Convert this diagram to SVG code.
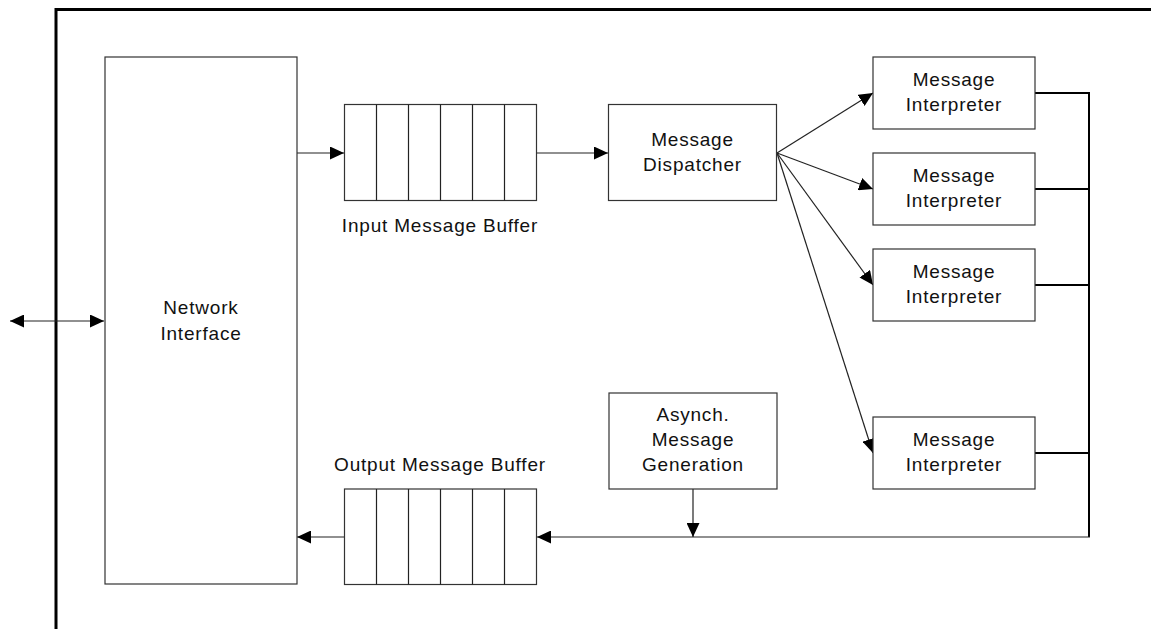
<svg xmlns="http://www.w3.org/2000/svg" width="1151" height="629" viewBox="0 0 1151 629">
<style>
.box{fill:#fff;stroke:#333;stroke-width:1.2}
.ln{fill:none;stroke:#222;stroke-width:1.2}
.bus{fill:none;stroke:#000;stroke-width:2}
.frame{fill:none;stroke:#000;stroke-width:3}
text{font-family:"Liberation Sans",Arial,sans-serif;font-size:19px;letter-spacing:0.8px;fill:#111;text-anchor:middle}
</style>
<defs>
<marker id="ah" viewBox="0 0 14 13" refX="14" refY="6.5" markerWidth="14" markerHeight="13" markerUnits="userSpaceOnUse" orient="auto-start-reverse">
<path d="M0,0 L14,6.5 L0,13 z" fill="#000"/>
</marker>
</defs>
<rect width="1151" height="629" fill="#fff"/>
<g id="frame">
<path class="frame" d="M56,629 V9.5 H1151"/>
</g>
<g id="connectors">
<line class="ln" x1="10" y1="321" x2="104" y2="321" marker-start="url(#ah)" marker-end="url(#ah)"/>
<line class="ln" x1="297" y1="153" x2="344" y2="153" marker-end="url(#ah)"/>
<line class="ln" x1="537" y1="153" x2="608" y2="153" marker-end="url(#ah)"/>
<line class="ln" x1="777" y1="153" x2="873" y2="93" marker-end="url(#ah)"/>
<line class="ln" x1="777" y1="153" x2="873" y2="189" marker-end="url(#ah)"/>
<line class="ln" x1="777" y1="153" x2="873" y2="285" marker-end="url(#ah)"/>
<line class="ln" x1="777" y1="153" x2="873" y2="453" marker-end="url(#ah)"/>
<path class="bus" d="M1035,93 H1089 M1035,189 H1089 M1035,285 H1089 M1035,453 H1089 M1089,92 V537"/>
<line class="ln" x1="1090" y1="537" x2="537" y2="537" marker-end="url(#ah)"/>
<line class="ln" x1="693" y1="489" x2="693" y2="537" marker-end="url(#ah)"/>
<line class="ln" x1="344" y1="537" x2="297" y2="537" marker-end="url(#ah)"/>
</g>
<g id="network-interface">
<rect class="box" x="105" y="57" width="192" height="527"/>
<text x="201" y="314">Network</text>
<text x="201" y="340">Interface</text>
</g>
<g id="input-buffer">
<rect class="box" x="344.5" y="104.5" width="192" height="96"/>
<path class="ln" d="M376.5,104.5 V200.5 M408.5,104.5 V200.5 M440.5,104.5 V200.5 M472.5,104.5 V200.5 M504.5,104.5 V200.5"/>
<text x="440" y="232">Input Message Buffer</text>
</g>
<g id="dispatcher">
<rect class="box" x="608.5" y="104.5" width="168" height="96"/>
<text x="692.5" y="146">Message</text>
<text x="692.5" y="171">Dispatcher</text>
</g>
<g id="interpreter-1">
<rect class="box" x="873" y="57" width="162" height="72"/>
<text x="954" y="86">Message</text>
<text x="954" y="111">Interpreter</text>
</g>
<g id="interpreter-2">
<rect class="box" x="873" y="153" width="162" height="72"/>
<text x="954" y="182">Message</text>
<text x="954" y="207">Interpreter</text>
</g>
<g id="interpreter-3">
<rect class="box" x="873" y="249" width="162" height="72"/>
<text x="954" y="278">Message</text>
<text x="954" y="303">Interpreter</text>
</g>
<g id="interpreter-4">
<rect class="box" x="873" y="417" width="162" height="72"/>
<text x="954" y="446">Message</text>
<text x="954" y="471">Interpreter</text>
</g>
<g id="asynch">
<rect class="box" x="609" y="393" width="168" height="96"/>
<text x="693" y="421">Asynch.</text>
<text x="693" y="446">Message</text>
<text x="693" y="471">Generation</text>
</g>
<g id="output-buffer">
<rect class="box" x="344.5" y="489" width="192" height="95.5"/>
<path class="ln" d="M376.5,489 V584.5 M408.5,489 V584.5 M440.5,489 V584.5 M472.5,489 V584.5 M504.5,489 V584.5"/>
<text x="440" y="471">Output Message Buffer</text>
</g>
</svg>
